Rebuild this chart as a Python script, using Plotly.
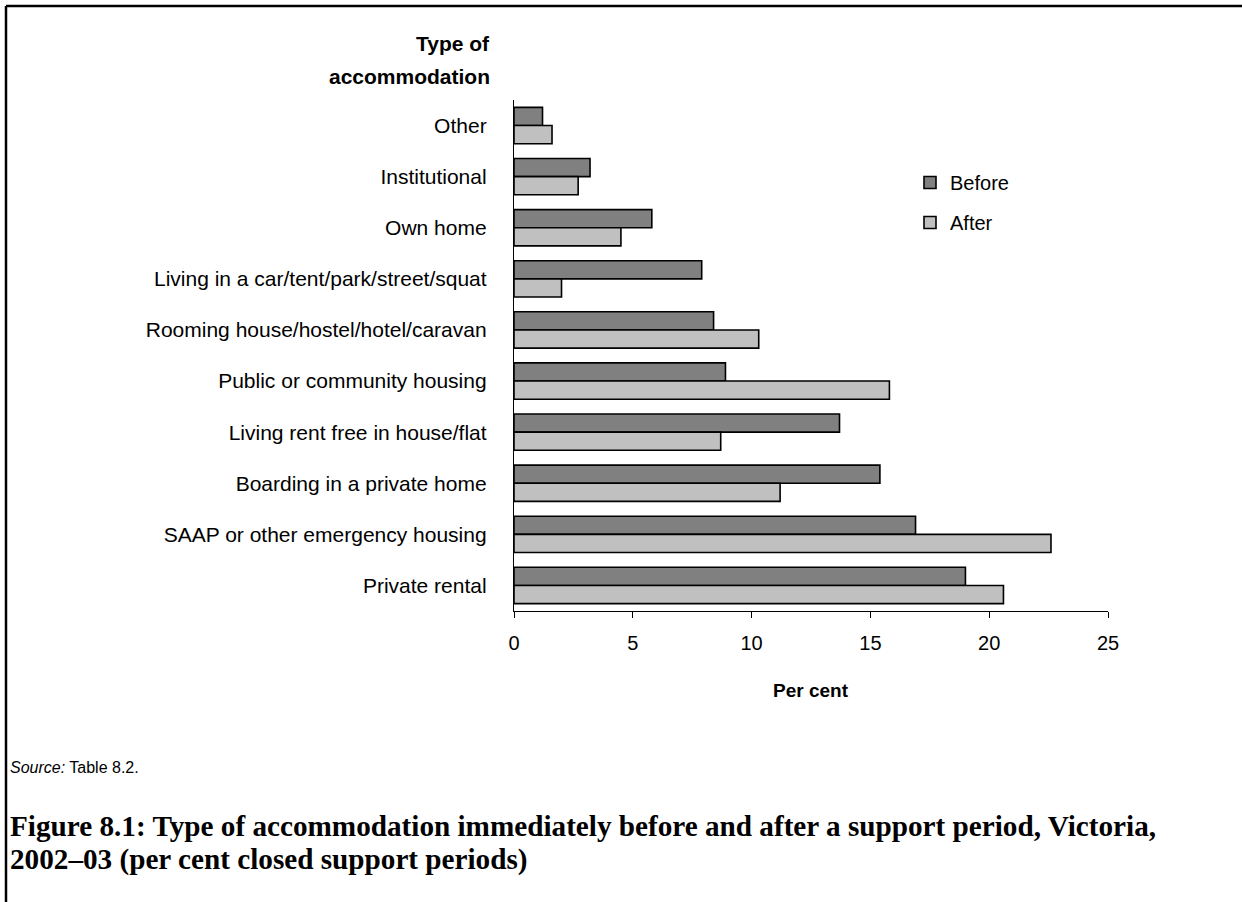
import plotly.graph_objects as go

# Accommodation types, listed top to bottom
categories = [
    "Other",
    "Institutional",
    "Own home",
    "Living in a car/tent/park/street/squat",
    "Rooming house/hostel/hotel/caravan",
    "Public or community housing",
    "Living rent free in house/flat",
    "Boarding in a private home",
    "SAAP or other emergency housing",
    "Private rental",
]
before = [1.2, 3.2, 5.8, 7.9, 8.4, 8.9, 13.7, 15.4, 16.9, 19.0]
after = [1.6, 2.7, 4.5, 2.0, 10.3, 15.8, 8.7, 11.2, 22.6, 20.6]
x_ticks = [0, 5, 10, 15, 20, 25]

W, H = 1242, 902
L, R, T, B = 514, 134, 100, 291
PW, PH = W - L - R, H - T - B


def px(x):
    return (x - L) / PW


def py(y):
    return (H - B - y) / PH


SANS = "Liberation Sans, Arial, sans-serif"
SERIF = "Liberation Serif, Times New Roman, serif"
outline = dict(color="black", width=1.6)

fig = go.Figure()
fig.add_trace(go.Bar(
    y=categories, x=before, name="Before", orientation="h",
    marker=dict(color="#808080", line=outline), legendgroup="before",
))
fig.add_trace(go.Bar(
    y=categories, x=after, name="After", orientation="h",
    marker=dict(color="#C0C0C0", line=outline), legendgroup="after",
))

fig.update_layout(
    width=W, height=H,
    margin=dict(l=L, r=R, t=T, b=B, autoexpand=False),
    paper_bgcolor="white", plot_bgcolor="white",
    barmode="group", bargap=0.29, bargroupgap=0,
    font=dict(family=SANS, color="black"),
    showlegend=True,
    legend=dict(
        x=px(910), y=py(163), xanchor="left", yanchor="top",
        font=dict(size=20, family=SANS), traceorder="grouped",
        tracegroupgap=11, bgcolor="rgba(0,0,0,0)", borderwidth=0,
    ),
    xaxis=dict(
        range=[0, 25], tickvals=x_ticks, ticks="outside", ticklen=6,
        tickwidth=1, tickcolor="black", showline=True, linecolor="black",
        linewidth=1.3, showgrid=False, zeroline=False,
        tickfont=dict(size=20), ticklabelstandoff=8,
    ),
    yaxis=dict(
        type="category", categoryorder="array", categoryarray=categories,
        range=[9.5, -0.5], showline=True, linecolor="black", linewidth=1.3,
        ticks="", showgrid=False, zeroline=False,
        tickfont=dict(size=21), ticklabelstandoff=22,
    ),
)

# Frame lines on the left and top of the figure
fig.add_shape(type="line", xref="paper", yref="paper",
              x0=px(6), x1=px(6), y0=py(902), y1=py(6),
              line=dict(color="black", width=2.5))
fig.add_shape(type="line", xref="paper", yref="paper",
              x0=px(6), x1=px(1242), y0=py(6), y1=py(6),
              line=dict(color="black", width=2.5))

annotations = [
    dict(text="<b>Type of</b>", x=px(492), y=py(43), xanchor="right",
         yanchor="middle", font=dict(size=21, family=SANS)),
    dict(text="<b>accommodation</b>", x=px(492), y=py(77), xanchor="right",
         yanchor="middle", font=dict(size=21, family=SANS)),
    dict(text="<b>Per cent</b>", x=px(811), y=py(690), xanchor="center",
         yanchor="middle", font=dict(size=19, family=SANS)),
    dict(text="<i>Source:</i> Table 8.2.", x=px(8), y=py(767), xanchor="left",
         yanchor="middle", font=dict(size=16, family=SANS)),
    dict(text="<b>Figure 8.1: Type of accommodation immediately before and after a support period, Victoria,</b>",
         x=px(8), y=py(826), xanchor="left", yanchor="middle",
         font=dict(size=29.2, family=SERIF)),
    dict(text="<b>2002\u201303 (per cent closed support periods)</b>",
         x=px(8), y=py(859), xanchor="left", yanchor="middle",
         font=dict(size=29.2, family=SERIF)),
]
for a in annotations:
    fig.add_annotation(xref="paper", yref="paper", showarrow=False, **a)

fig.write_html("out.html")
